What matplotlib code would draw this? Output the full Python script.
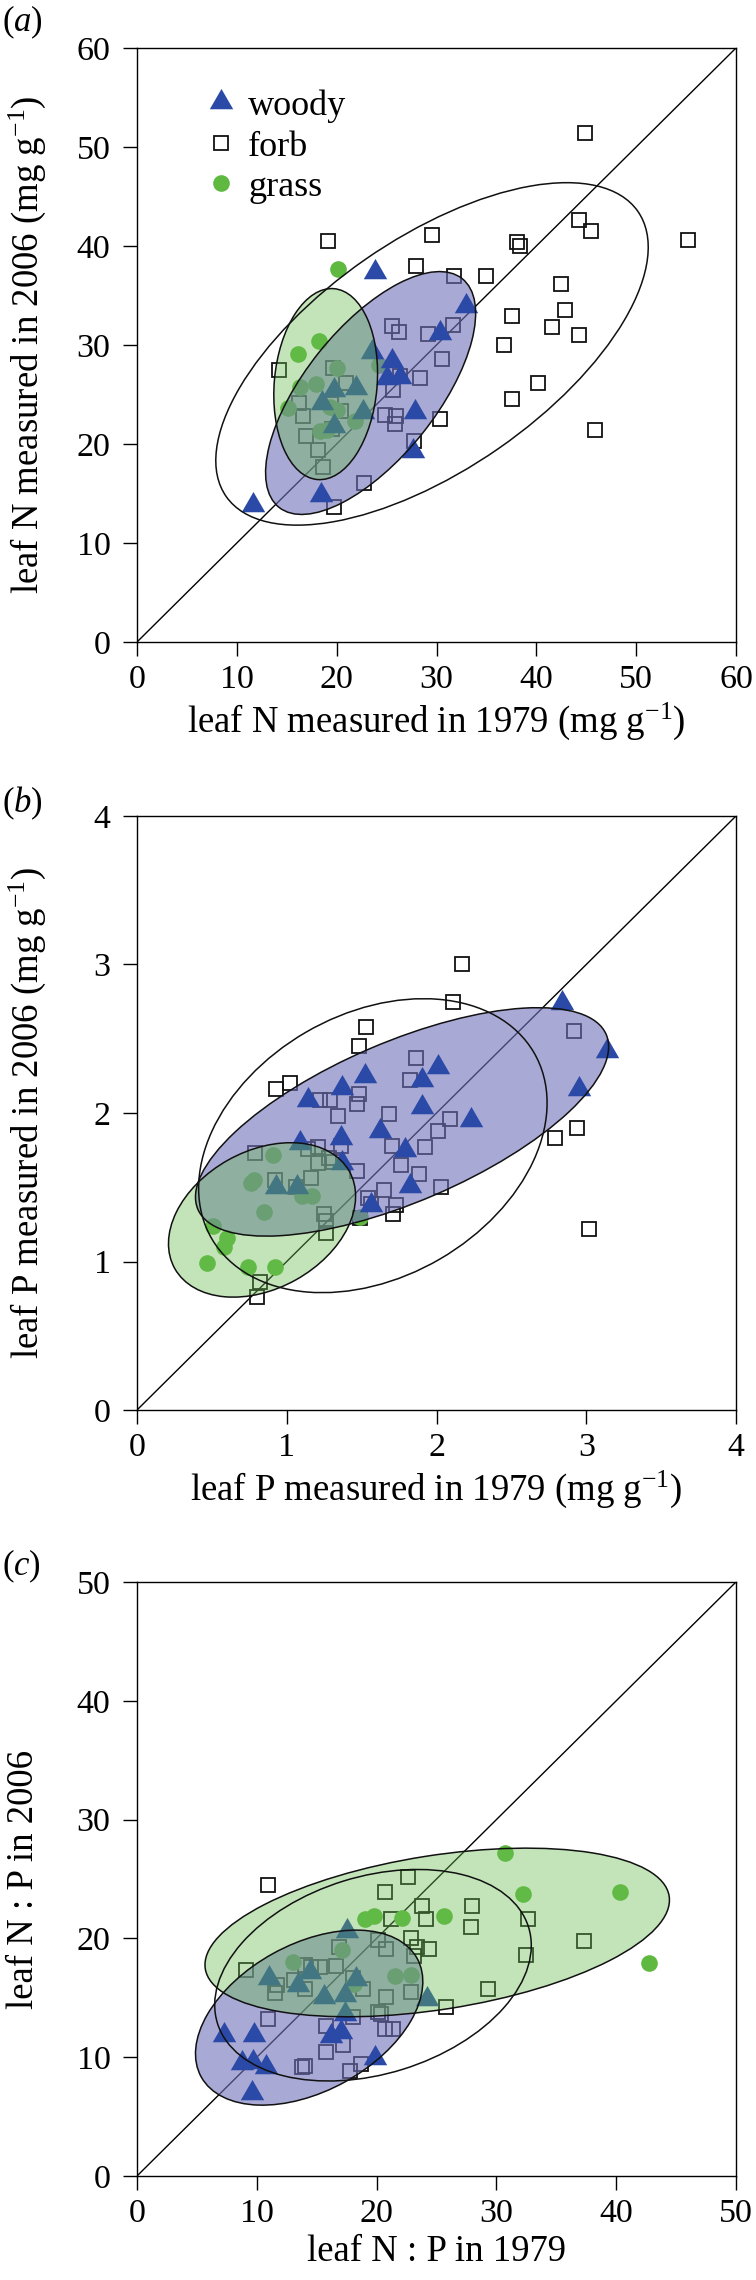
import matplotlib
matplotlib.use('Agg')
import matplotlib.pyplot as plt
from matplotlib.patches import Ellipse
from matplotlib.lines import Line2D
from matplotlib.path import Path

plt.rcParams['font.family'] = ['Liberation Serif', 'DejaVu Serif']
plt.rcParams['mathtext.fontset'] = 'custom'
plt.rcParams['mathtext.rm'] = 'Liberation Serif'
plt.rcParams['mathtext.it'] = 'Liberation Serif:italic'

# ---------------- data ----------------
# panel (a): leaf N (mg/g), 1979 vs 2006
a_forb_x = [19.1, 44.9, 55.2, 44.3, 45.5, 29.5, 38.1, 38.4, 27.9, 31.8, 35.0, 42.5, 42.9, 37.6, 41.6,
            44.3, 36.8, 40.2, 37.6, 45.9, 30.4, 14.2, 25.5, 26.2, 29.1, 31.7, 30.6, 28.3, 26.3, 25.6,
            24.8, 25.9, 25.8, 27.7, 19.6, 20.9, 16.2, 16.6, 16.9, 18.1, 18.6, 19.4, 20.4, 19.5, 22.7, 19.7]
a_forb_y = [40.5, 51.4, 40.6, 42.6, 41.5, 41.1, 40.4, 40.0, 38.0, 37.0, 37.0, 36.2, 33.5, 32.9, 31.8,
            31.0, 30.0, 26.2, 24.5, 21.4, 22.5, 27.5, 31.9, 31.3, 31.1, 32.0, 28.6, 26.7, 26.9, 25.5,
            22.9, 22.8, 22.0, 20.3, 27.7, 26.2, 24.1, 22.8, 20.8, 19.4, 17.7, 24.0, 23.3, 21.5, 16.1, 13.6]
a_woody_x = [11.6, 18.4, 23.8, 33.0, 30.4, 23.5, 25.5, 25.0, 26.3, 27.8, 27.6, 19.7, 21.9, 22.6, 18.5, 19.7]
a_woody_y = [13.8, 14.8, 37.4, 33.9, 31.2, 29.3, 28.4, 26.7, 26.8, 23.2, 19.3, 25.5, 25.7, 23.2, 24.1, 21.8]
a_grass_x = [20.1, 18.2, 16.1, 17.9, 16.3, 15.1, 20.0, 24.2, 19.3, 20.0, 21.8, 18.3, 19.0]
a_grass_y = [37.7, 30.4, 29.1, 26.1, 25.8, 23.6, 27.7, 28.0, 23.7, 23.4, 22.3, 21.3, 21.4]
# ellipses: centre x, centre y, full width, full height, angle (deg)
a_ell_forb = [29.55, 29.1, 50.3, 23.3, 35.0]
a_ell_woody = [23.4, 25.15, 29.5, 13.2, 51.6]
a_ell_grass = [18.9, 26.05, 19.35, 10.3, 85.1]

# panel (b): leaf P (mg/g)
b_forb_x = [2.17, 2.11, 1.53, 1.48, 2.92, 0.93, 1.02, 1.86, 1.82, 1.29, 1.22, 1.48, 1.47, 1.34, 1.68,
            2.09, 2.01, 1.92, 1.70, 1.76, 1.88, 2.03, 2.94, 2.79, 3.02, 0.79, 0.92, 1.21, 1.14, 1.36,
            1.28, 1.31, 1.21, 1.47, 1.16, 1.06, 1.54, 1.56, 1.65, 1.73, 1.71, 1.49, 1.25, 1.26, 1.26,
            0.82, 0.80]
b_forb_y = [3.00, 2.75, 2.58, 2.45, 2.55, 2.16, 2.20, 2.37, 2.22, 2.09, 2.09, 2.13, 2.06, 1.98, 1.99,
            1.96, 1.88, 1.77, 1.78, 1.65, 1.59, 1.50, 1.90, 1.83, 1.22, 1.73, 1.55, 1.77, 1.76, 1.78,
            1.70, 1.67, 1.66, 1.61, 1.56, 1.50, 1.43, 1.39, 1.48, 1.38, 1.32, 1.29, 1.32, 1.27, 1.19,
            0.86, 0.76]
b_woody_x = [2.84, 3.14, 2.95, 2.23, 2.01, 1.90, 1.90, 1.52, 1.37, 1.14, 1.62, 1.36, 1.79, 1.82, 1.09,
             1.37, 0.93, 1.07, 1.56]
b_woody_y = [2.74, 2.42, 2.16, 1.95, 2.31, 2.22, 2.04, 2.25, 2.17, 2.09, 1.88, 1.83, 1.75, 1.51, 1.80,
             1.66, 1.50, 1.50, 1.38]
b_grass_x = [0.91, 0.76, 0.78, 0.85, 1.10, 1.17, 1.49, 0.51, 0.60, 0.58, 0.47, 0.74, 0.92]
b_grass_y = [1.72, 1.53, 1.55, 1.33, 1.44, 1.44, 1.30, 1.24, 1.16, 1.10, 0.99, 0.96, 0.96]
b_ell_forb = [1.575, 1.78, 2.49, 1.77, 30.4]
b_ell_woody = [1.77, 1.94, 2.97, 1.076, 23.4]
b_ell_grass = [0.835, 1.28, 1.337, 0.925, 29.5]

# panel (c): leaf N:P
c_forb_x = [10.9, 22.6, 20.7, 23.8, 28.0, 27.9, 21.2, 24.1, 32.6, 37.3, 32.5, 29.3, 25.8, 22.9, 20.8,
            23.4, 24.4, 23.1, 20.1, 22.9, 20.8, 16.9, 16.6, 15.3, 14.5, 14.0, 13.1, 11.7, 11.5, 14.0,
            18.0, 18.9, 9.1, 10.9, 18.0, 20.1, 20.4, 20.7, 21.4, 15.8, 17.2, 15.8, 14.0, 13.8, 18.7, 17.8]
c_forb_y = [24.5, 25.2, 23.9, 22.7, 22.7, 21.0, 21.6, 21.6, 21.6, 19.8, 18.6, 15.7, 14.2, 20.0, 19.1,
            19.3, 19.1, 18.5, 19.9, 15.5, 15.1, 19.3, 17.7, 17.6, 17.6, 17.8, 16.5, 16.1, 15.4, 15.7,
            16.7, 15.7, 17.3, 13.2, 13.4, 13.8, 13.6, 12.4, 12.4, 12.6, 11.0, 10.4, 9.3, 9.2, 9.4, 8.8]
c_woody_x = [17.5, 11.0, 14.4, 13.4, 15.6, 17.4, 18.3, 24.2, 17.4, 17.0, 16.2, 7.3, 9.8, 8.8, 9.7,
             10.8, 9.6, 19.9]
c_woody_y = [20.6, 16.7, 17.2, 16.1, 15.1, 15.2, 16.6, 14.9, 13.6, 12.1, 11.8, 11.9, 11.9, 9.5, 9.6,
             9.2, 7.0, 9.9]
c_grass_x = [30.7, 32.2, 40.3, 42.7, 25.6, 22.1, 19.8, 19.0, 17.1, 13.0, 18.1, 21.5, 22.9]
c_grass_y = [27.2, 23.7, 23.9, 17.9, 21.9, 21.7, 21.9, 21.6, 19.0, 18.0, 16.2, 16.8, 16.9]
c_ell_forb = [19.7, 16.9, 27.2, 16.6, 17.4]
c_ell_woody = [14.37, 13.33, 20.6, 12.36, 29.1]
c_ell_grass = [25.06, 20.5, 39.2, 12.96, 9.0]

a_ticks = [0, 10, 20, 30, 40, 50, 60]
b_ticks = [0, 1, 2, 3, 4]
c_ticks = [0, 10, 20, 30, 40, 50]
legend_labels = ['woody', 'forb', 'grass']

# ---------------- style ----------------
BLUE = '#2b49a6'
GREEN = '#5fb941'
BLUE_FILL = (113/255, 113/255, 188/255, 0.6)
GREEN_FILL = (105/255, 188/255, 80/255, 0.4)
TICK_FS = 24.5
LABEL_FS = 26.5

tri_path = Path([(-1, -0.577), (1, -0.577), (0, 1.155), (-1, -0.577)],
                [Path.MOVETO, Path.LINETO, Path.LINETO, Path.CLOSEPOLY])
TRI_MS = 19.5
SQ_MS = 10.5
CIR_MS = 12


def draw_panel(ax, fx, fy, wx, wy, gx, gy, ef, ew, eg, ticks, xlabel, ylabel, ylab_x):
    lim = ticks[-1]
    ax.plot([0, lim], [0, lim], color='black', lw=1.0, zorder=1.5)
    ax.plot(fx, fy, ls='none', marker='s', ms=SQ_MS, mfc='none', mec='#111111', mew=1.3, zorder=2)
    ax.plot(gx, gy, ls='none', marker='o', ms=CIR_MS, mfc=GREEN, mec='none', zorder=3)
    ax.add_patch(Ellipse((ew[0], ew[1]), ew[2], ew[3], angle=ew[4], fc=BLUE_FILL, ec='none', zorder=4))
    ax.plot(wx, wy, ls='none', marker=tri_path, ms=TRI_MS, mfc=BLUE, mec='none', zorder=5)
    ax.add_patch(Ellipse((eg[0], eg[1]), eg[2], eg[3], angle=eg[4], fc=GREEN_FILL, ec='none', zorder=6))
    for e in (ef, ew, eg):
        ax.add_patch(Ellipse((e[0], e[1]), e[2], e[3], angle=e[4], fc='none', ec='#111111', lw=1.1, zorder=7))
    ax.set_xlim(0, lim)
    ax.set_ylim(0, lim)
    ax.set_xticks(ticks)
    ax.set_yticks(ticks)
    ax.tick_params(axis='both', direction='out', length=10, width=1.0, labelsize=TICK_FS,
                   top=False, right=False)
    ax.tick_params(axis='x', pad=6)
    ax.tick_params(axis='y', pad=9)
    for s in ax.spines.values():
        s.set_linewidth(1.0)
    ax.set_xlabel(xlabel, fontsize=LABEL_FS)
    ax.set_ylabel(ylabel, fontsize=LABEL_FS)
    ax.xaxis.set_label_coords(0.5, -0.098)
    ax.yaxis.set_label_coords(ylab_x, 0.5)


fig = plt.figure(figsize=(7.56, 22.8), dpi=100)
W, H = 756.0, 2280.0
L, AW, AH = 137 / W, 599 / W, 594 / H

ax_a = fig.add_axes([L, 1 - 642 / H, AW, AH])
ax_b = fig.add_axes([L, 1 - 1410 / H, AW, AH])
ax_c = fig.add_axes([L, 1 - 2176 / H, AW, AH])

draw_panel(ax_a, a_forb_x, a_forb_y, a_woody_x, a_woody_y, a_grass_x, a_grass_y,
           a_ell_forb, a_ell_woody, a_ell_grass, a_ticks,
           r'leaf N measured in 1979 (mg g$^{-1}$)', r'leaf N measured in 2006 (mg g$^{-1}$)', -0.148)
draw_panel(ax_b, b_forb_x, b_forb_y, b_woody_x, b_woody_y, b_grass_x, b_grass_y,
           b_ell_forb, b_ell_woody, b_ell_grass, b_ticks,
           r'leaf P measured in 1979 (mg g$^{-1}$)', r'leaf P measured in 2006 (mg g$^{-1}$)', -0.148)
draw_panel(ax_c, c_forb_x, c_forb_y, c_woody_x, c_woody_y, c_grass_x, c_grass_y,
           c_ell_forb, c_ell_woody, c_ell_grass, c_ticks,
           'leaf N : P in 1979', 'leaf N : P in 2006', -0.16)

handles = [Line2D([], [], ls='none', marker=tri_path, ms=TRI_MS, mfc=BLUE, mec='none'),
           Line2D([], [], ls='none', marker='s', ms=SQ_MS, mfc='none', mec='#111111', mew=1.3),
           Line2D([], [], ls='none', marker='o', ms=CIR_MS, mfc=GREEN, mec='none')]
ax_a.legend(handles, legend_labels, loc='upper left', bbox_to_anchor=(0.11, 0.93), frameon=False,
            fontsize=26, handlelength=1.0, handletextpad=0.25, labelspacing=0.2,
            borderpad=0, borderaxespad=0)

for lab, yc in (('a', 22.5), ('b', 803), ('c', 1566)):
    fig.text(0.003, 1 - yc / H, '(' + r'$\mathit{' + lab + '}$' + ')', fontsize=25,
             ha='left', va='center')

fig.savefig('out.png', dpi=100)
